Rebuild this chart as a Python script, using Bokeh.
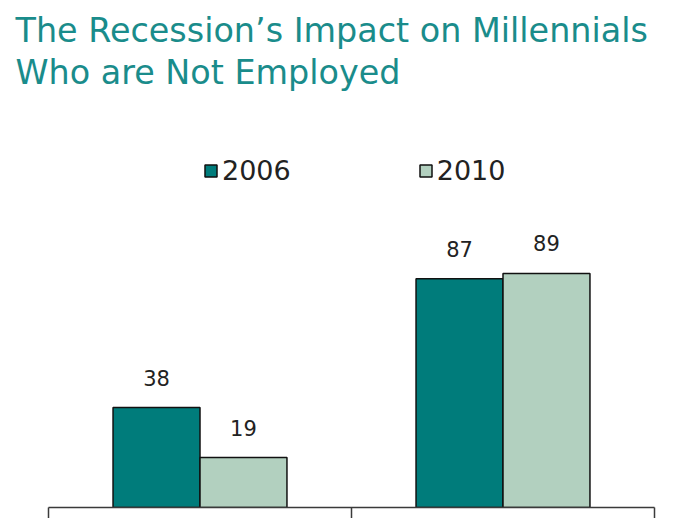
from bokeh.plotting import figure
from bokeh.models import ColumnDataSource, Range1d, LinearAxis, FixedTicker, Label, LabelSet, Legend, LegendItem
from bokeh.core.properties import value
from bokeh.transform import dodge
from bokeh.embed import file_html
from bokeh.resources import INLINE

title_lines = ["The Recession\u2019s Impact on Millennials", "Who are Not Employed"]
groups = [0.5, 1.5]
series = ["2006", "2010"]
values_2006 = [38, 87]
values_2010 = [19, 89]
colors = ["#007c7b", "#b2d0bf"]

FONT = "DejaVu Sans"
px_per_unit_y = 2.63
px_per_unit_x = 303
frame_w = 690
frame_h = 507
left_px = 48

p = figure(frame_width=frame_w, frame_height=frame_h, output_backend="svg", toolbar_location=None,
           x_range=Range1d(-left_px / px_per_unit_x, (frame_w - left_px) / px_per_unit_x),
           y_range=Range1d(0, frame_h / px_per_unit_y),
           x_axis_type=None, y_axis_type=None,
           min_border_left=0, min_border_right=0, min_border_top=0, min_border_bottom=0)
p.outline_line_color = None
p.xgrid.visible = False
p.ygrid.visible = False
p.background_fill_color = "white"

xaxis = LinearAxis(ticker=FixedTicker(ticks=[0, 1, 2]), bounds=(0, 2))
xaxis.major_label_text_color = None
xaxis.major_label_text_font_size = "1px"
xaxis.major_label_standoff = 0
xaxis.major_tick_out = 11
xaxis.major_tick_in = 0
xaxis.minor_tick_line_color = None
xaxis.axis_line_color = "#3a3a3a"
xaxis.axis_line_width = 1.5
xaxis.major_tick_line_color = "#3a3a3a"
xaxis.major_tick_line_width = 1.5
p.add_layout(xaxis, "below")

src = ColumnDataSource(dict(x=groups, v2006=values_2006, v2010=values_2010,
                            t2006=[str(v) for v in values_2006], t2010=[str(v) for v in values_2010]))
bw = 0.287
r1 = p.vbar(x=dodge("x", -bw / 2, range=p.x_range), top="v2006", width=bw, source=src,
            fill_color=colors[0], line_color="#111111", line_width=1.5)
r2 = p.vbar(x=dodge("x", bw / 2, range=p.x_range), top="v2010", width=bw, source=src,
            fill_color=colors[1], line_color="#111111", line_width=1.5)

for col, off in (("2006", -bw / 2), ("2010", bw / 2)):
    ls = LabelSet(x=dodge("x", off, range=p.x_range), y="v" + col, text="t" + col, source=src,
                  text_align="center", text_baseline="alphabetic", y_offset=22,
                  text_font=value(FONT), text_font_size=value("21px"), text_color="#222222")
    p.add_layout(ls)

legend = Legend(items=[LegendItem(label=series[0], renderers=[r1]),
                       LegendItem(label=series[1], renderers=[r2])],
                orientation="horizontal", location=(203, 321),
                glyph_width=15, glyph_height=15, label_standoff=4, spacing=127,
                padding=0, margin=0, border_line_color=None, background_fill_alpha=0,
                label_text_font=FONT, label_text_font_size="27px", label_text_color="#222222",
                label_text_baseline="middle")
p.add_layout(legend, "center")

for i, (line, yb) in enumerate(zip(title_lines, [477, 435])):
    p.add_layout(Label(x=15, y=yb, x_units="screen", y_units="screen", text=line,
                       text_font=FONT, text_font_size="33.4px", text_color="#1a8c8b",
                       text_baseline="alphabetic"))

open("out.html", "w").write(file_html(p, INLINE))
